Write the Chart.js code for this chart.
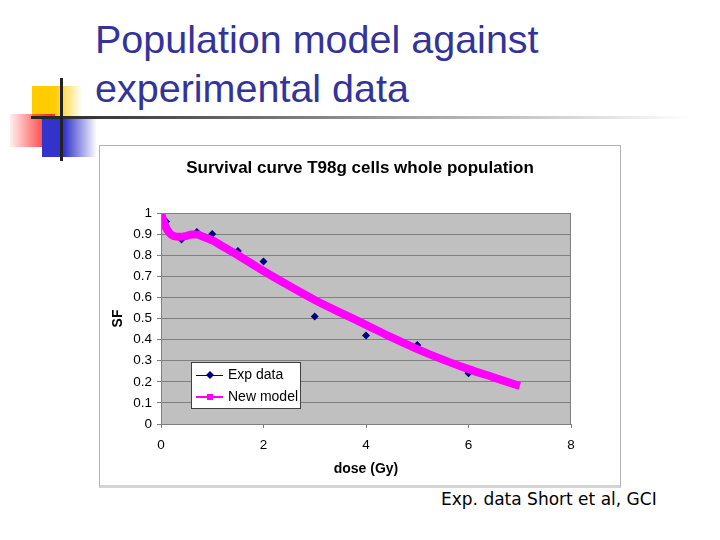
<!DOCTYPE html>
<html>
<head>
<meta charset="utf-8">
<script src="https://cdn.jsdelivr.net/npm/chart.js@4.4.1/dist/chart.umd.min.js"></script>
<style>
  body { margin: 0; background: #fff; }
  #slide { position: relative; width: 720px; height: 540px; overflow: hidden; background: #fff; }
  .deco { position: absolute; }
  #title { position: absolute; left: 95px; top: 15px; font-family: 'Liberation Sans', Arial, sans-serif;
           font-size: 39.5px; line-height: 49px; color: #333399; white-space: nowrap; }
  #panel { position: absolute; left: 99px; top: 145px; width: 522px; height: 343px;
           box-sizing: border-box; border: 1px solid #b4b4b4; border-bottom: 3px solid #d4d4d4; background: #fff; }
  #chart1 { position: absolute; left: -1px; top: -1px; }
  #source { position: absolute; left: 441px; top: 489px; font-family: 'DejaVu Sans', sans-serif;
            font-size: 17px; color: #000; white-space: nowrap; }
</style>
</head>
<body>
<div id="slide">
  <div class="deco" style="left:32px;top:86px;width:50px;height:31px;background:linear-gradient(to right,#FFCC00 0%,#FFCC00 45%,#fff 100%);"></div>
  <div class="deco" style="left:10px;top:114px;width:45px;height:33px;background:linear-gradient(to right,rgba(255,60,60,0.08) 0%,#FF3333 85%);"></div>
  <div class="deco" style="left:42px;top:118px;width:55px;height:39px;background:linear-gradient(to right,#3333CC 0%,#3333CC 40%,#fff 100%);"></div>
  <div class="deco" style="left:31px;top:116px;width:660px;height:3px;background:linear-gradient(to right,#222 0%,#777 38%,#fff 100%);"></div>
  <div class="deco" style="left:60px;top:78px;width:3px;height:83px;background:#222;"></div>
  <div id="title">Population model against<br>experimental data</div>
  <div id="panel"><canvas id="chart1" width="522" height="343"></canvas></div>
  <div id="source">Exp. data Short et al, GCI</div>
</div>
<script>
// datos experimentales
var expDose = [0.1, 0.4, 0.7, 1, 1.5, 2, 3, 4, 5, 6];
var expSF = [0.96, 0.875, 0.91, 0.9, 0.82, 0.77, 0.51, 0.42, 0.375, 0.24];

// curva del modelo
var modelDose = [0, 0.05, 0.1, 0.15, 0.2, 0.3, 0.4, 0.5, 0.6, 0.7, 0.8, 1, 1.25, 1.5, 1.75, 2, 2.5, 3, 3.5, 4, 4.5, 5, 5.5, 6, 6.5, 7];
var modelSF = [1, 0.96, 0.93, 0.91, 0.897, 0.888, 0.887, 0.892, 0.898, 0.898, 0.89, 0.87, 0.835, 0.8, 0.763, 0.725, 0.655, 0.588, 0.528, 0.47, 0.41, 0.355, 0.305, 0.26, 0.22, 0.18];

var xTicks = [0, 2, 4, 6, 8];
var yTicks = [0, 0.1, 0.2, 0.3, 0.4, 0.5, 0.6, 0.7, 0.8, 0.9, 1];

var seriesNames = ['Exp data', 'New model'];

function toPoints(xs, ys) {
    return xs.map(function(x, i) { return {x: x, y: ys[i]}; });
}

var fontFam = "'Liberation Sans', Arial, sans-serif";

var plotBg = {
    id: 'plotBg',
    beforeDraw: function(chart) {
        var a = chart.chartArea, c = chart.ctx;
        c.save();
        c.fillStyle = '#C0C0C0';
        c.fillRect(a.left, a.top, a.right - a.left, a.bottom - a.top);
        c.restore();
    },
    afterDatasetsDraw: function(chart) {
        var a = chart.chartArea, c = chart.ctx;
        c.save();
        c.strokeStyle = '#808080';
        c.lineWidth = 1;
        c.strokeRect(a.left + 0.5, a.top + 0.5, a.right - a.left - 1, a.bottom - a.top);
        c.restore();
    }
};

// leyenda dentro del área del gráfico
var boxLegend = {
    id: 'boxLegend',
    afterDraw: function(chart) {
        var a = chart.chartArea, c = chart.ctx;
        var x = a.left + 30, y = a.top + 149, w = 109, h = 46;
        c.save();
        c.fillStyle = '#fff';
        c.fillRect(x, y, w, h);
        c.strokeStyle = '#404040';
        c.lineWidth = 1;
        c.strokeRect(x + 0.5, y + 0.5, w, h);
        var rows = [y + 13, y + 35];
        // Exp data
        c.strokeStyle = '#000080';
        c.lineWidth = 1;
        c.beginPath(); c.moveTo(x + 5, rows[0] + 0.5); c.lineTo(x + 32, rows[0] + 0.5); c.stroke();
        c.fillStyle = '#000080';
        c.beginPath();
        c.moveTo(x + 19, rows[0] - 4); c.lineTo(x + 23, rows[0]); c.lineTo(x + 19, rows[0] + 4); c.lineTo(x + 15, rows[0]);
        c.closePath(); c.fill();
        // New model
        c.strokeStyle = '#FF00FF';
        c.lineWidth = 2;
        c.beginPath(); c.moveTo(x + 5, rows[1]); c.lineTo(x + 32, rows[1]); c.stroke();
        c.fillStyle = '#FF00FF';
        c.fillRect(x + 16, rows[1] - 3, 6, 6);
        c.fillStyle = '#000';
        c.font = '14px ' + fontFam;
        c.textBaseline = 'middle';
        c.fillText(seriesNames[0], x + 37, rows[0]);
        c.fillText(seriesNames[1], x + 37, rows[1]);
        c.restore();
    }
};

var ctx1 = document.getElementById('chart1').getContext('2d');
var chart1 = new Chart(ctx1, {
    type: 'line',
    data: {
        datasets: [{
            label: seriesNames[1],
            data: toPoints(modelDose, modelSF),
            borderColor: '#FF00FF',
            backgroundColor: '#FF00FF',
            borderWidth: 8,
            borderCapStyle: 'butt',
            pointRadius: 0,
            cubicInterpolationMode: 'monotone',
            fill: false,
            order: 0
        }, {
            label: seriesNames[0],
            data: toPoints(expDose, expSF),
            showLine: false,
            pointStyle: 'rectRot',
            pointRadius: 4,
            borderWidth: 0,
            backgroundColor: '#000080',
            borderColor: '#000080',
            order: 1
        }]
    },
    options: {
        responsive: false,
        animation: false,
        layout: { padding: 0 },
        plugins: {
            legend: { display: false },
            tooltip: { enabled: false },
            title: {
                display: true,
                text: 'Survival curve T98g cells whole population',
                color: '#000',
                font: { family: fontFam, size: 17, weight: 'bold' },
                padding: { top: 13, bottom: 34.6 }
            }
        },
        scales: {
            x: {
                type: 'linear',
                min: 0, max: 8,
                afterBuildTicks: function(s) { s.ticks = xTicks.map(function(v) { return {value: v}; }); },
                afterFit: function(s) { s.height = 64; },
                ticks: { color: '#000', padding: 9, font: { family: fontFam, size: 13.5 } },
                grid: { drawOnChartArea: false, drawTicks: true, tickLength: 4, color: '#808080' },
                border: { color: '#808080' },
                title: { display: true, text: 'dose (Gy)', color: '#000', padding: 10,
                         font: { family: fontFam, size: 14, weight: 'bold' } }
            },
            y: {
                min: 0, max: 1,
                afterBuildTicks: function(s) { s.ticks = yTicks.map(function(v) { return {value: v}; }); },
                afterFit: function(s) { s.width = 62; },
                ticks: { color: '#000', padding: 5, font: { family: fontFam, size: 13.5 },
                         callback: function(v) { return String(Math.round(v * 10) / 10); } },
                grid: { color: '#808080', tickLength: 4 },
                border: { color: '#808080' },
                title: { display: true, text: 'SF', color: '#000', padding: 11,
                         font: { family: fontFam, size: 14, weight: 'bold' } }
            },
            // eje vacío a la derecha, solo para dejar el margen
            yRight: {
                position: 'right',
                min: 0, max: 1,
                afterFit: function(s) { s.width = 50; },
                ticks: { display: false },
                grid: { display: false },
                border: { display: false }
            }
        }
    },
    plugins: [plotBg, boxLegend]
});
</script>
</body>
</html>
